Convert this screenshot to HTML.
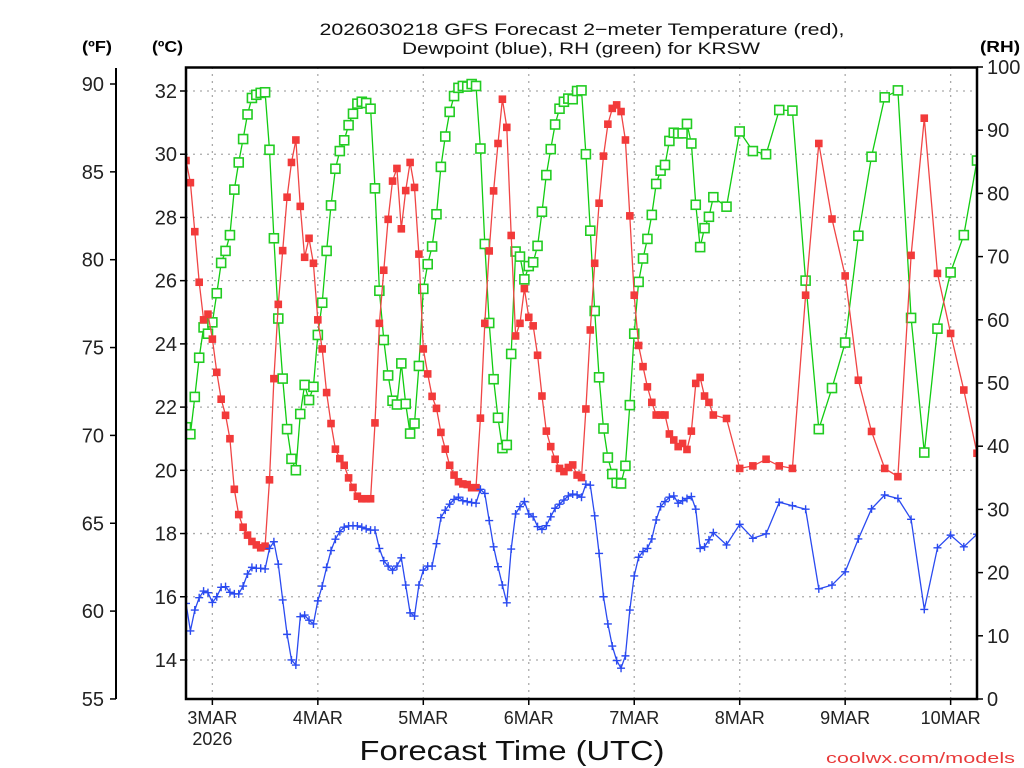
<!DOCTYPE html>
<html><head><meta charset="utf-8"><style>
html,body{margin:0;padding:0;background:#fff;}
svg{display:block;font-family:"Liberation Sans",sans-serif;}
</style></head><body>
<svg id="chart" width="1024" height="768" viewBox="0 0 1024 768" xmlns="http://www.w3.org/2000/svg">
<defs><clipPath id="pc"><rect x="186" y="67" width="791" height="632"/></clipPath></defs>
<g id="grid"></g>
<g id="series" clip-path="url(#pc)"></g>
<rect x="186" y="67.5" width="791" height="631.5" fill="none" stroke="#000" stroke-width="2.5"/>
<line x1="116" y1="68" x2="116" y2="699" stroke="#000" stroke-width="2"/>
<g id="axes"></g>
<text x="582" y="35" text-anchor="middle" font-size="17" textLength="525" lengthAdjust="spacingAndGlyphs" fill="#111">2026030218 GFS Forecast 2−meter Temperature (red),</text>
<text x="581" y="54" text-anchor="middle" font-size="17" textLength="358" lengthAdjust="spacingAndGlyphs" fill="#111">Dewpoint (blue), RH (green) for KRSW</text>
<text x="82" y="52" font-size="16" font-weight="bold" textLength="30" lengthAdjust="spacingAndGlyphs">(ºF)</text>
<text x="152" y="52" font-size="16" font-weight="bold" textLength="31" lengthAdjust="spacingAndGlyphs">(ºC)</text>
<text x="980" y="52" font-size="16" font-weight="bold" textLength="40" lengthAdjust="spacingAndGlyphs">(RH)</text>
<text x="512" y="760" text-anchor="middle" font-size="28" textLength="305" lengthAdjust="spacingAndGlyphs" fill="#111">Forecast Time (UTC)</text>
<text x="826" y="763" font-size="15" textLength="189" lengthAdjust="spacingAndGlyphs" fill="#e83a3a">coolwx.com/models</text>
</svg>
<script>
const hours=[0,1,2,3,4,5,6,7,8,9,10,11,12,13,14,15,16,17,18,19,20,21,22,23,24,25,26,27,28,29,30,31,32,33,34,35,36,37,38,39,40,41,42,43,44,45,46,47,48,49,50,51,52,53,54,55,56,57,58,59,60,61,62,63,64,65,66,67,68,69,70,71,72,73,74,75,76,77,78,79,80,81,82,83,84,85,86,87,88,89,90,91,92,93,94,95,96,97,98,99,100,101,102,103,104,105,106,107,108,109,110,111,112,113,114,115,116,117,118,119,120,123,126,129,132,135,138,141,144,147,150,153,156,159,162,165,168,171,174,177,180];
const tempC=[29.8,29.1,27.55,25.95,24.76,24.94,24.15,23.1,22.25,21.74,21.0,19.4,18.6,18.2,17.95,17.75,17.64,17.55,17.6,19.7,22.9,25.25,26.95,28.64,29.74,30.45,28.35,26.74,27.34,26.55,24.76,23.84,22.46,21.48,20.67,20.37,20.16,19.76,19.46,19.18,19.1,19.1,19.1,21.5,24.65,26.33,27.94,29.15,29.55,27.64,28.85,29.74,28.95,26.84,23.84,23.05,22.34,21.96,21.2,20.67,20.16,19.85,19.64,19.57,19.55,19.45,19.45,21.65,24.65,26.94,28.84,30.34,31.74,30.85,27.43,24.25,24.65,25.75,24.84,24.57,23.64,22.35,21.24,20.75,20.35,20.06,19.96,20.09,20.17,19.85,19.77,21.94,24.44,26.55,28.45,29.94,30.95,31.45,31.56,31.35,30.45,28.05,25.54,23.95,23.28,22.64,22.15,21.75,21.75,21.75,21.15,20.96,20.75,20.85,20.66,21.24,22.75,22.94,22.35,22.15,21.75,21.64,20.06,20.14,20.35,20.14,20.06,25.54,30.34,27.95,26.15,22.85,21.23,20.06,19.8,26.8,31.14,26.23,24.33,22.54,20.54];
const rhPct=[43,41.9,47.8,54.0,58.8,57.8,59.6,64.2,69.0,70.9,73.4,80.6,84.9,88.6,92.5,95.1,95.6,95.9,96.0,86.9,72.9,60.2,50.7,42.7,38.0,36.2,45.1,49.7,47.3,49.4,57.6,62.7,70.9,78.1,83.9,86.7,88.4,90.8,92.6,94.2,94.5,94.3,93.4,80.8,64.6,56.8,51.2,47.2,46.6,53.1,46.7,42.0,43.6,52.7,64.9,68.8,71.6,76.7,84.2,89.0,92.9,95.4,96.7,97.0,96.9,97.3,97.0,87.1,72.0,59.5,50.6,44.5,39.7,40.2,54.6,70.8,70.0,66.4,68.5,69.1,71.7,77.1,82.9,87.0,90.9,93.4,94.5,95.0,94.9,96.2,96.3,86.2,74.1,61.4,50.9,42.8,38.2,35.6,34.2,34.1,36.9,46.5,57.8,66.0,69.7,72.8,76.6,81.5,83.6,84.5,88.3,89.6,89.5,89.5,91.0,87.9,78.2,71.5,74.5,76.3,79.4,77.9,89.8,86.7,86.2,93.2,93.1,66.2,42.7,49.2,56.4,73.3,85.8,95.2,96.3,60.3,39.0,58.6,67.5,73.4,85.2];
const dewC=[15.79,14.92,15.58,15.97,16.18,16.13,15.82,16.0,16.3,16.32,16.14,16.09,16.09,16.34,16.72,16.93,16.9,16.9,16.88,17.53,17.74,17.03,15.9,14.81,14.0,13.84,15.37,15.42,15.26,15.14,15.87,16.34,16.93,17.46,17.82,18.06,18.2,18.24,18.25,18.24,18.2,18.15,18.11,18.11,17.53,17.14,16.97,16.84,16.97,17.23,16.37,15.49,15.39,16.37,16.84,16.97,16.97,17.68,18.5,18.74,18.93,19.08,19.15,19.04,19.01,18.98,18.96,19.4,19.27,18.41,17.58,16.95,16.37,15.81,17.51,18.62,18.85,19.01,18.62,18.53,18.22,18.13,18.25,18.53,18.8,18.93,19.06,19.19,19.25,19.22,19.15,19.56,19.53,18.56,17.37,16.0,15.14,14.44,13.98,13.74,14.13,15.58,16.66,17.25,17.43,17.53,17.83,18.43,18.85,19.01,19.15,19.19,18.96,19.04,19.11,19.17,18.77,17.53,17.58,17.8,18.03,17.64,18.29,17.85,17.99,18.99,18.88,18.77,16.25,16.37,16.79,17.83,18.78,19.22,19.11,18.45,15.6,17.55,17.95,17.58,17.98];
const celsiusTicks=[14,16,18,20,22,24,26,28,30,32];
const fahrenheitTicks=[55,60,65,70,75,80,85,90];
const rhTicks=[0,10,20,30,40,50,60,70,80,90,100];
const dayLabels=["3MAR","4MAR","5MAR","6MAR","7MAR","8MAR","9MAR","10MAR"];
const dayHours=[6,30,54,78,102,126,150,174];

const NS="http://www.w3.org/2000/svg";
const X0=186,X1=977,HMAX=180;
function xs(h){return X0+h*(X1-X0)/HMAX;}
function yC(c){return 91+(32-c)*31.61;}
function yF(f){return 84+(90-f)*17.57;}
function yRH(r){return 699-r*6.32;}
function mk(tag,attrs,parent){const e=document.createElementNS(NS,tag);for(const k in attrs)e.setAttribute(k,attrs[k]);parent.appendChild(e);return e;}

const grid=document.getElementById('grid');
const axes=document.getElementById('axes');
const series=document.getElementById('series');

celsiusTicks.forEach(c=>{
  const y=yC(c);
  const g=mk('line',{x1:X0,y1:y,x2:X1,y2:y,stroke:'#aaa','stroke-width':1.3,'stroke-dasharray':'2 5'},grid);
  
  
  const t=mk('line',{x1:X0-6,y1:y,x2:X0,y2:y,stroke:'#000','stroke-width':1.5},axes);
  
  
  const l=mk('text',{x:177,y:y+7,'text-anchor':'end','font-size':20,fill:'#222'},axes);
  l.textContent=c;
  
  
});
fahrenheitTicks.forEach(f=>{
  const y=yF(f);
  const t=mk('line',{x1:110,y1:y,x2:116,y2:y,stroke:'#000','stroke-width':1.5},axes);
  
  
  const l=mk('text',{x:104,y:y+7,'text-anchor':'end','font-size':20,fill:'#222'},axes);
  l.textContent=f;
  
  
});
rhTicks.forEach(r=>{
  const y=yRH(r);
  const t=mk('line',{x1:X1,y1:y,x2:X1+6,y2:y,stroke:'#000','stroke-width':1.5},axes);
  
  
  const l=mk('text',{x:987,y:y+7,'font-size':20,fill:'#222'},axes);
  l.textContent=r;
  
  
});
dayHours.forEach((h,i)=>{
  const x=xs(h);
  const g=mk('line',{x1:x,y1:67,x2:x,y2:699,stroke:'#aaa','stroke-width':1.3,'stroke-dasharray':'2 5'},grid);
  
  
  const t=mk('line',{x1:x,y1:699,x2:x,y2:705,stroke:'#000','stroke-width':1.5},axes);
  
  
  const l=mk('text',{x:x,y:724,'text-anchor':'middle','font-size':18,fill:'#222'},axes);
  l.textContent=dayLabels[i];
  
  
});
const yr=mk('text',{x:xs(dayHours[0]),y:745,'text-anchor':'middle','font-size':18,fill:'#222'},axes);
yr.textContent='2026';



function drawLine(vals,yf,color,name){
  const pts=hours.map((h,i)=>xs(h).toFixed(1)+','+yf(vals[i]).toFixed(1)).join(' ');
  const p=mk('polyline',{points:pts,fill:'none',stroke:color,'stroke-width':1.3},series);
  
  
}
// RH
drawLine(rhPct,yRH,'#11cc11','rh-line');
hours.forEach((h,i)=>{
  const m=mk('rect',{x:xs(h)-4.5,y:yRH(rhPct[i])-4.5,width:9,height:9,fill:'#fff',stroke:'#22cc22','stroke-width':1.6},series);
  
  
});
// Temperature
drawLine(tempC,yC,'#f04545','temperature-line');
hours.forEach((h,i)=>{
  const m=mk('rect',{x:xs(h)-3.8,y:yC(tempC[i])-3.8,width:7.6,height:7.6,fill:'#f23a3a'},series);
  
  
});
// Dewpoint
drawLine(dewC,yC,'#2a4af0','dewpoint-line');
hours.forEach((h,i)=>{
  const x=xs(h),y=yC(dewC[i]);
  const m=mk('path',{d:`M${x-4},${y}H${x+4}M${x},${y-4}V${y+4}`,stroke:'#2a4af0','stroke-width':1.4,fill:'none'},series);
  
  
});
</script>
</body></html>
